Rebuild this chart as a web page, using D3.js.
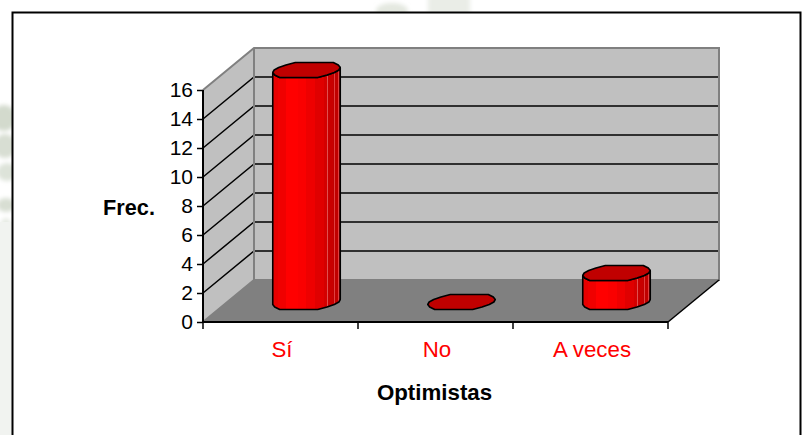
<!DOCTYPE html>
<html><head><meta charset="utf-8">
<script src="https://cdn.jsdelivr.net/npm/d3@7/dist/d3.min.js"></script>
<style>html,body{margin:0;padding:0;background:#fff}svg{display:block}text{font-family:"Liberation Sans",Arial,sans-serif}</style>
</head><body><svg id="c" width="802" height="435"></svg>
<script>
const categories = ["Sí", "No", "A veces"];
const values = [16, 0, 2];
const yTicks = [0, 2, 4, 6, 8, 10, 12, 14, 16];
const yTitle = "Frec.";
const xTitle = "Optimistas";

const svg = d3.select("#c");
const x = d3.scaleBand().domain(categories).range([203, 668]);
const y = d3.scaleLinear().domain([0, 16]).range([322, 90]);
const depth = {dx: 51, dy: -42};
const line = d3.line();
const defs = svg.append("defs");

// watermark tints outside the frame
defs.append("filter").attr("id","soft").append("feGaussianBlur").attr("stdDeviation",2);
const wm = svg.append("g").attr("filter","url(#soft)");
[[4,118,12,13,"#d3dacd"],[5,146,11,12,"#d8ded3"],[7,172,10,9,"#dde3d9"],[6,205,9,7,"#d8ded3"],[6,232,7,14,"#e6eae3"]]
  .forEach(e=>wm.append("ellipse").attr("cx",e[0]).attr("cy",e[1]).attr("rx",e[2]).attr("ry",e[3]).attr("fill",e[4]));
wm.append("ellipse").attr("cx",392).attr("cy",11).attr("rx",16).attr("ry",8).attr("fill","#e4e8e0");
wm.append("rect").attr("x",428).attr("y",-4).attr("width",42).attr("height",18).attr("fill","#eaede7");
svg.append("rect").attr("x",0).attr("y",222).attr("width",12).attr("height",213).attr("fill","#f1f3f0");
// frame
svg.append("path").attr("d","M12.5,436V12.5H800.5V436").attr("fill","#fff").attr("stroke","#000").attr("stroke-width",2);

const [x0,x1] = x.range(), y0 = y(0), yT = y(16);
const back = (px,py)=>[px+depth.dx, py+depth.dy];
// walls
svg.append("path").attr("d",line([[x0,yT],back(x0,yT),back(x0,y0),[x0,y0]])+"Z").attr("fill","#c0c0c0");
svg.append("path").attr("d",line([back(x0,yT),back(x1,yT),back(x1,y0),back(x0,y0)])+"Z").attr("fill","#c0c0c0");
svg.append("path").attr("d",line([[x0,y0],[x1,y0],back(x1,y0),back(x0,y0)])+"Z").attr("fill","#808080");
// gridlines
yTicks.filter(t=>t>0&&t<16).forEach(t=>{
  svg.append("path").attr("d",line([[x0,y(t)],back(x0,y(t)),back(x1,y(t))])).attr("fill","none").attr("stroke","#000").attr("stroke-width",1.5);
});
// gray wall edges
const edge = "#808080";
svg.append("path").attr("d",line([[x0,yT],back(x0,yT),back(x1,yT),back(x1,y0),back(x0,y0),[x0,y0]])).attr("fill","none").attr("stroke",edge).attr("stroke-width",2);
svg.append("path").attr("d",line([back(x0,yT),back(x0,y0)])).attr("fill","none").attr("stroke",edge).attr("stroke-width",2);
// floor right edge + axes
svg.append("path").attr("d",line([[x1,y0],back(x1,y0)])).attr("fill","none").attr("stroke","#000").attr("stroke-width",1.5);
svg.append("path").attr("d",line([[x0,yT],[x0,y0],[x1,y0]])).attr("fill","none").attr("stroke","#000").attr("stroke-width",2);
const yAxis = d3.axisLeft(y).tickValues(yTicks).tickSize(6).tickPadding(4);
const gy = svg.append("g").attr("transform",`translate(${x0},0)`).call(yAxis);
gy.select(".domain").remove();
gy.selectAll("line").attr("stroke","#000").attr("stroke-width",1.5);
gy.selectAll("text").attr("font-size",21).attr("fill","#000").style("font-family",'"Liberation Sans"');
// x axis ticks at band edges, labels at band centres
[...categories.map(c=>x(c)), x1].forEach(v=>{
  svg.append("line").attr("x1",v).attr("x2",v).attr("y1",y0).attr("y2",y0+7).attr("stroke","#000").attr("stroke-width",1.5);
});
svg.selectAll("text.cat").data(categories).join("text").attr("class","cat")
  .attr("x",c=>x(c)+x.bandwidth()/2+1.5).attr("y",357).attr("text-anchor","middle")
  .attr("font-size",22.3).attr("fill","#ff0000").text(c=>c);
svg.append("text").attr("x",129).attr("y",215).attr("text-anchor","middle").attr("font-size",21.7).attr("font-weight","bold").text(yTitle);
svg.append("text").attr("x",434.5).attr("y",400).attr("text-anchor","middle").attr("font-size",22.3).attr("font-weight","bold").text(xTitle);

// cylinders
const stops = [[0,"#e80000"],[.08,"#f00000"],[.2,"#ff0000"],[.38,"#fa0000"],[.5,"#ee0000"],[.62,"#e00000"],[.76,"#d40000"],[.81,"#e05050"],[.82,"#c80000"],[.90,"#c00000"],[.905,"#e04040"],[.915,"#c00000"],[.965,"#c00000"],[.97,"#e04040"],[.98,"#b80000"],[1,"#b80000"]];
const g = defs.append("linearGradient").attr("id","cyl");
stops.forEach((s,i)=>{
  g.append("stop").attr("offset",s[0]).attr("stop-color",s[1]);
  if(i<stops.length-1) g.append("stop").attr("offset",stops[i+1][0]).attr("stop-color",s[1]);
});
const a = 32.4, b = 7.8, skew = depth.dx/-depth.dy, N = 20;
const snap = v=>Math.round(v/2.5)*2.5;
const ring = (cx,cy)=>d3.range(N).map(i=>{
  const t = i/N*2*Math.PI+0.31;
  return [cx + a*Math.cos(t)+skew*b*Math.sin(t), cy + snap(-b*Math.sin(t))];
});
values.forEach((v,i)=>{
  const cx = x(categories[i])+x.bandwidth()/2 + depth.dx/2 + 0.5;
  const base = y0 + depth.dy/2 + 1;
  const top = base - (y(0)-y(v));
  const rT = ring(cx,top), rB = ring(cx,base);
  if(v>0){
    const iL = d3.minIndex(rB,p=>p[0]), iR = d3.maxIndex(rB,p=>p[0]);
    const seq=[]; for(let k=iL;;k=(k+1)%N){seq.push(k); if(k===iR)break;}
    const topSeq = seq.map(k=>rT[k]), botSeq = seq.map(k=>rB[k]).reverse();
    svg.append("path").attr("d",line([...topSeq,...botSeq])+"Z")
      .attr("fill","url(#cyl)").attr("stroke","#000").attr("stroke-width",1.6).attr("stroke-linejoin","round");
  }
  svg.append("path").attr("d",line(rT)+"Z").attr("fill","#c00000").attr("stroke","#000").attr("stroke-width",1.6).attr("stroke-linejoin","round");
});
</script></body></html>
